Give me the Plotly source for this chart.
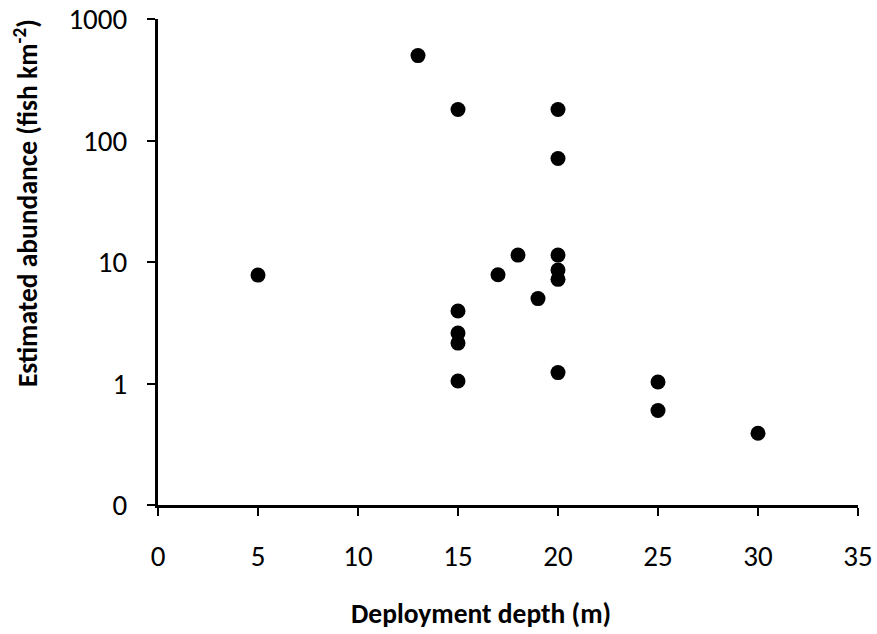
import plotly.graph_objects as go

depth = [13, 15, 20, 20, 18, 20, 5, 17, 20, 20, 19, 15, 15, 15, 15, 20, 25, 25, 30]
abundance = [500, 180, 180, 71, 11.4, 11.4, 7.8, 7.85, 8.6, 7.2, 5.0, 3.95, 2.6, 2.15, 1.05, 1.23, 1.03, 0.6, 0.39]

y_tickvals = [0.1, 1, 10, 100, 1000]
y_ticktext = ["0", "1", "10", "100", "1000"]
x_tickvals = [0, 5, 10, 15, 20, 25, 30, 35]

FONT = "Carlito, Lato, sans-serif"

fig = go.Figure()
fig.add_trace(go.Scatter(
    x=depth, y=abundance, mode="markers",
    marker=dict(size=15, color="black", line=dict(width=0)),
    showlegend=False, cliponaxis=False,
))

fig.update_layout(
    width=877, height=634,
    margin=dict(l=158, r=19, t=19, b=129, autoexpand=False),
    paper_bgcolor="white", plot_bgcolor="white",
    font=dict(family=FONT, color="black", size=29),
    annotations=[
        dict(text="<b>Deployment depth (m)</b>", xref="paper", yref="paper",
             x=0.461, y=-0.224, xanchor="center", yanchor="middle",
             showarrow=False, font=dict(size=27.5, family=FONT)),
        dict(text="<b>Estimated abundance (fish km<sup>-2</sup>)</b>", xref="paper", yref="paper",
             x=-0.188, y=0.622, xanchor="center", yanchor="middle", textangle=-90,
             showarrow=False, font=dict(size=27.5, family=FONT)),
    ],
)
fig.update_xaxes(
    range=[0, 35], tickvals=x_tickvals, automargin=False,
    showline=True, linecolor="black", linewidth=3,
    ticks="outside", ticklen=8, tickwidth=2, tickcolor="black",
    ticklabelstandoff=15,
    showgrid=False, zeroline=False,
    tickfont=dict(size=29, family=FONT),
)
fig.update_yaxes(
    type="log", range=[-1, 3], tickvals=y_tickvals, ticktext=y_ticktext, automargin=False,
    showline=True, linecolor="black", linewidth=3,
    ticks="outside", ticklen=8, tickwidth=2, tickcolor="black",
    ticklabelstandoff=14,
    showgrid=False, zeroline=False,
    tickfont=dict(size=29, family=FONT),
)

fig.write_html(
    "out.html",
    config={"displayModeBar": False},
    post_script="document.body.style.margin='0';document.body.style.overflow='hidden';",
)
